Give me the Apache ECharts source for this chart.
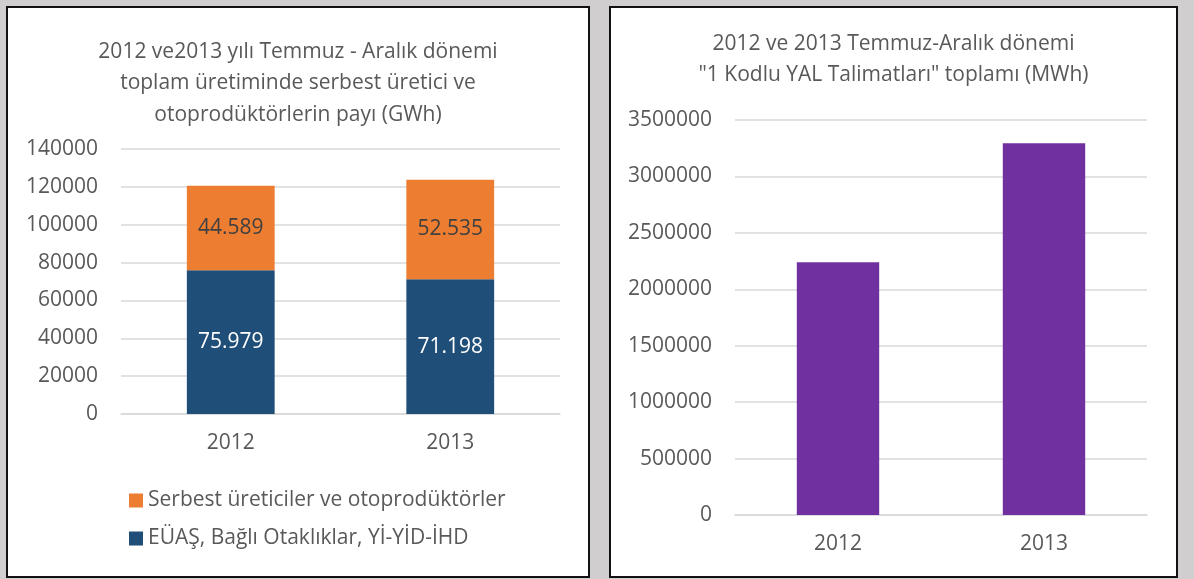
<!DOCTYPE html>
<html>
<head>
<meta charset="utf-8">
<script src="https://cdn.jsdelivr.net/npm/echarts@6/dist/echarts.min.js"></script>
<style>
  html, body { margin: 0; padding: 0; background: #d0cece; }
  body { width: 1194px; height: 579px; position: relative; overflow: hidden; }
  .panel { position: absolute; box-sizing: border-box; border: 2px solid #111; background: #fff; }
  #leftPanel { left: 6px; top: 6px; width: 584px; height: 572px; }
  #rightPanel { left: 609px; top: 6px; width: 569px; height: 572px; }
  .chart { width: 100%; height: 100%; }
</style>
</head>
<body>
<div class="panel" id="leftPanel"><div class="chart" id="shareChart"></div></div>
<div class="panel" id="rightPanel"><div class="chart" id="yalChart"></div></div>
<script>
// yıllar
const years = ['2012', '2013']
// sol grafik (GWh)
const euasData = [75979, 71198]
const serbestData = [44589, 52535]
// sağ grafik (MWh)
const yalData = [2240000, 3295000]

const FONT = '"Open Sans", "Noto Sans", sans-serif'
const TXT = '#595959'
const GRIDLINE = '#d9d9d9'

// 75979 -> 75.979
const trNumber = (v) => String(v).replace(/\B(?=(\d{3})+(?!\d))/g, '.')

const axisCommon = {
  axisLabel: { color: TXT, fontSize: 21, fontFamily: FONT },
  axisTick: { show: false }
}

const shareChart = echarts.init(document.getElementById('shareChart'))
shareChart.setOption({
  animation: false,
  textStyle: { fontFamily: FONT },
  title: {
    text: '2012 ve2013 yılı Temmuz - Aralık dönemi\ntoplam üretiminde serbest üretici ve\notoprodüktörlerin payı (GWh)',
    left: 'center',
    top: 23,
    textStyle: { color: TXT, fontSize: 21, fontWeight: 'normal', lineHeight: 31.5, fontFamily: FONT }
  },
  legend: {
    orient: 'vertical',
    left: 116,
    top: 477,
    itemWidth: 14,
    itemHeight: 14,
    itemGap: 17,
    icon: 'rect',
    data: ['Serbest üreticiler ve otoprodüktörler', 'EÜAŞ, Bağlı Otaklıklar, Yİ-YİD-İHD'],
    textStyle: { color: TXT, fontSize: 21, lineHeight: 21, fontFamily: FONT }
  },
  grid: { left: 113, top: 141, width: 439, height: 265, outerBoundsMode: 'none' },
  xAxis: {
    type: 'category',
    data: years,
    ...axisCommon,
    axisLabel: { ...axisCommon.axisLabel, margin: 19 },
    axisLine: { show: true, lineStyle: { color: GRIDLINE, width: 1.5 } }
  },
  yAxis: {
    type: 'value',
    min: 0,
    max: 140000,
    interval: 20000,
    ...axisCommon,
    axisLabel: { ...axisCommon.axisLabel, margin: 23, formatter: (v) => String(v) },
    axisLine: { show: false },
    splitLine: { lineStyle: { color: GRIDLINE, width: 1.5 } }
  },
  series: [
    {
      name: 'EÜAŞ, Bağlı Otaklıklar, Yİ-YİD-İHD',
      type: 'bar',
      stack: 'toplam',
      data: euasData,
      barWidth: '40%',
      itemStyle: { color: '#1f4e79' },
      label: {
        show: true,
        position: 'inside',
        color: '#fff',
        fontSize: 21,
        fontFamily: FONT,
        formatter: (p) => trNumber(p.value)
      }
    },
    {
      name: 'Serbest üreticiler ve otoprodüktörler',
      type: 'bar',
      stack: 'toplam',
      data: serbestData,
      barWidth: '40%',
      itemStyle: { color: '#ed7d31' },
      label: {
        show: true,
        position: 'inside',
        color: '#404040',
        fontSize: 21,
        fontFamily: FONT,
        formatter: (p) => trNumber(p.value)
      }
    }
  ]
})

const yalChart = echarts.init(document.getElementById('yalChart'))
yalChart.setOption({
  animation: false,
  textStyle: { fontFamily: FONT },
  title: {
    text: '2012 ve 2013 Temmuz-Aralık dönemi\n"1 Kodlu YAL Talimatları" toplamı (MWh)',
    left: 'center',
    top: 16,
    textStyle: { color: TXT, fontSize: 21, fontWeight: 'normal', lineHeight: 31, fontFamily: FONT }
  },
  grid: { left: 124, top: 112, width: 412, height: 395, outerBoundsMode: 'none' },
  xAxis: {
    type: 'category',
    data: years,
    ...axisCommon,
    axisLabel: { ...axisCommon.axisLabel, margin: 19 },
    axisLine: { show: true, lineStyle: { color: GRIDLINE, width: 1.5 } }
  },
  yAxis: {
    type: 'value',
    min: 0,
    max: 3500000,
    interval: 500000,
    ...axisCommon,
    axisLabel: { ...axisCommon.axisLabel, margin: 23, formatter: (v) => String(v) },
    axisLine: { show: false },
    splitLine: { lineStyle: { color: GRIDLINE, width: 1.5 } }
  },
  series: [
    {
      name: 'YAL',
      type: 'bar',
      data: yalData,
      barWidth: '40%',
      itemStyle: { color: '#7030a0' }
    }
  ]
})
</script>
</body>
</html>
